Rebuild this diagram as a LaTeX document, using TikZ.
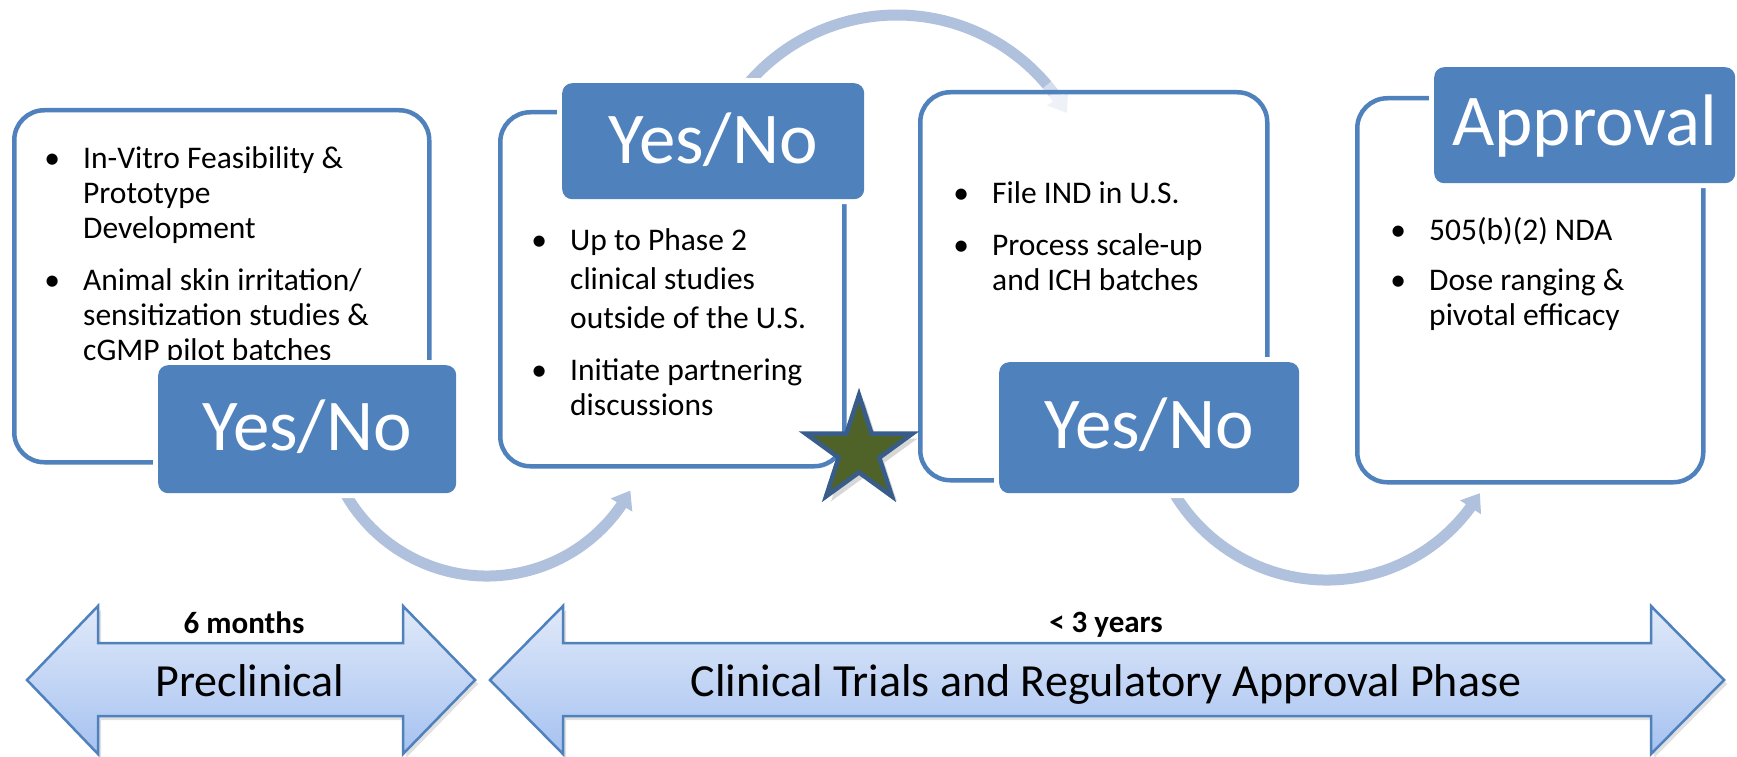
\documentclass[tikz,border=0pt]{standalone}
\usepackage{fontspec}
\setmainfont{Carlito}
\usetikzlibrary{arrows.meta,bending,shapes.geometric}
\definecolor{ofblue}{HTML}{4F81BD}
\definecolor{arcblue}{HTML}{B0C1DD}
\definecolor{starfill}{HTML}{4F6228}
\definecolor{starline}{HTML}{385D8A}
\definecolor{bartop}{HTML}{E0E9F9}
\definecolor{barbot}{HTML}{A6C2F1}
\begin{document}
\begin{tikzpicture}[x=1pt,y=-1pt,
  stage/.style={draw=ofblue, line width=4.5pt, rounded corners=30pt, inner sep=0pt, anchor=north west},
  ynbox/.style={fill=ofblue, rounded corners=10pt, inner sep=0pt, text=white, align=center,
    anchor=north west, font=\fontsize{73}{80}\selectfont,
    preaction={draw=white, line width=10pt}},
  % multi-line items are placed by the baseline of their last line
  bul/.style={anchor=base west, inner sep=0pt, align=left, font=\fontsize{31.5}{35}\selectfont},
  flow/.style={draw=arcblue, line width=11pt},
  flowtip/.style={-{Triangle[length=17pt,width=24pt]}},
  phase/.style={draw=ofblue, line width=2.5pt, line join=miter, top color=bartop, bottom color=barbot},
  phaseshadow/.style={fill=black!22, opacity=.55},
  phasetext/.style={anchor=base, inner sep=0pt, font=\fontsize{46}{50}\selectfont},
  spantext/.style={anchor=base, inner sep=0pt, font=\bfseries\fontsize{31}{34}\selectfont},
  starshape/.style={star, star points=5, star point ratio=2.618, minimum size=112pt, inner sep=0pt}
]
\newcommand\bdot{\llap{\makebox[62pt]{•}}}
\useasboundingbox (0,0) rectangle (1737,757);
\fill[white] (0,0) rectangle (1737,757);

% curved transition arrows
\coordinate (c0) at (897,211);
\coordinate (c1) at (487,413);
\coordinate (c2) at (1327,402);
\draw[flow] (c0) ++(-150:196) arc[start angle=-150, end angle=-40, radius=196];
\draw[flow, draw=arcblue!55] (c0) ++(-40:196) arc[start angle=-40, end angle=-37, radius=196];
\draw[flow, flowtip, draw=arcblue!22] (c0) ++(-37:196) arc[start angle=-37, end angle=-30, radius=196];
\draw[flow, flowtip] (c1) ++(165:163) arc[start angle=165, end angle=28.4, radius=163];
\draw[flow, flowtip] (c2) ++(165:178) arc[start angle=165, end angle=30.8, radius=178];

% stage frames
\node[stage, minimum width=415pt, minimum height=352pt] (b1) at (12,108) {};
\node[stage, minimum width=344pt, minimum height=354pt] (b2) at (498,110) {};
\node[stage, minimum width=347pt, minimum height=388pt] (b3) at (918,90) {};
\node[stage, minimum width=346pt, minimum height=384pt] (b4) at (1355,96) {};

% stage contents
\node[bul] (t11) at (83,238) {\bdot In-Vitro Feasibility \&\\Prototype\\Development};
\node[bul] (t12) at (83,360) {\bdot Animal skin irritation/\\sensitization studies \&\\cGMP pilot batches};
\node[bul, font=\fontsize{31.5}{39}\selectfont] (t21) at (570,328) {\bdot Up to Phase 2\\clinical studies\\outside of the U.S.};
\node[bul] (t22) at (570,415) {\bdot Initiate partnering\\discussions};
\node[bul] (t31) at (992,203) {\bdot File IND in U.S.};
\node[bul] (t32) at (992,290) {\bdot Process scale-up\\and ICH batches};
\node[bul] (t41) at (1429,240) {\bdot 505(b)(2) NDA};
\node[bul] (t42) at (1429,325) {\bdot Dose ranging \&\\pivotal efficacy};

% decision tabs
\node[ynbox, text width=298pt, text height=85pt, text depth=43pt] (yn1) at (158,365) {Yes/No};
\node[ynbox, text width=302pt, text height=80pt, text depth=36pt] (yn2) at (562,83) {Yes/No};
\node[ynbox, text width=300pt, text height=86pt, text depth=45pt] (yn3) at (999,362) {Yes/No};
\node[ynbox, text width=301pt, text height=78pt, text depth=38pt] (appr) at (1434,67) {Approval};

% milestone star
\node[starshape, fill=black!22, opacity=.7] (starshadow) at (864,456) {};
\node[starshape, fill=starfill, draw=starline, line width=4.5pt] (star) at (859,451) {};

% phase spans
\fill[phaseshadow] (30,684) -- (101,610) -- (101,647) -- (406,647) -- (406,610) -- (478,684)
  -- (406,758) -- (406,720) -- (101,720) -- (101,758) -- cycle;
\fill[phaseshadow] (493,684) -- (566,610) -- (566,647) -- (1654,647) -- (1654,610) -- (1727,684)
  -- (1654,758) -- (1654,720) -- (566,720) -- (566,758) -- cycle;
\draw[phase] (27,680) -- (98,606) -- (98,643) -- (403,643) -- (403,606) -- (475,680)
  -- (403,754) -- (403,716) -- (98,716) -- (98,754) -- cycle;
\draw[phase] (490,680) -- (563,606) -- (563,643) -- (1651,643) -- (1651,606) -- (1724,680)
  -- (1651,754) -- (1651,716) -- (563,716) -- (563,754) -- cycle;
\node[spantext] (sixm) at (244,633) {6 months};
\node[phasetext] (pre) at (250,696) {Preclinical};
\node[spantext] (three) at (1106,632) {< 3 years};
\node[phasetext] (clin) at (1106,696) {Clinical Trials and Regulatory Approval Phase};
\end{tikzpicture}
\end{document}
